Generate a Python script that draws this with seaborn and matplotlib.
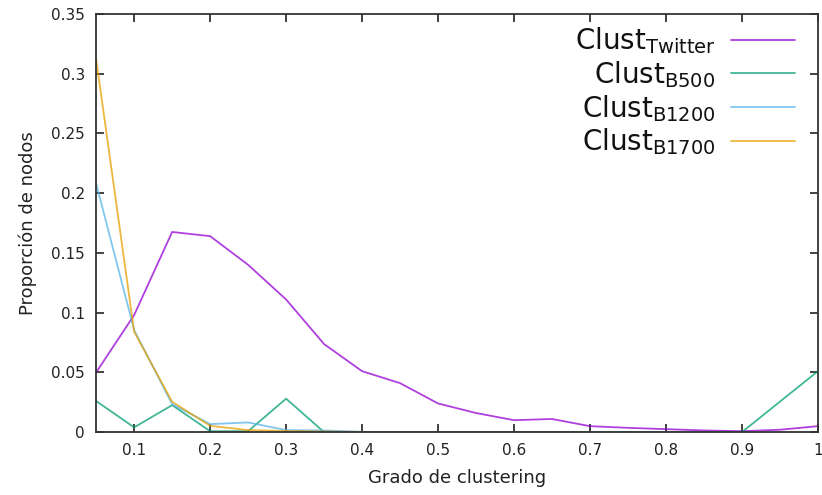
import numpy as np
import pandas as pd
import matplotlib
matplotlib.use("Agg")
import matplotlib.pyplot as plt
import seaborn as sns

x_twitter = [0.05, 0.1, 0.15, 0.2, 0.25, 0.3, 0.35, 0.4, 0.45, 0.5, 0.55, 0.6, 0.65, 0.7, 0.75, 0.8, 0.85, 0.9, 0.95, 1.0]
y_twitter = [0.050, 0.098, 0.1675, 0.164, 0.140, 0.111, 0.0737, 0.051, 0.041, 0.024, 0.016, 0.010, 0.011, 0.005, 0.0036, 0.0025, 0.0014, 0.0008, 0.002, 0.005]

x_b500 = [0.05, 0.1, 0.15, 0.2, 0.25, 0.3, 0.35, 0.4, 0.45, 0.5, 0.55, 0.6, 0.65, 0.7, 0.75, 0.8, 0.85, 0.9, 1.0]
y_b500 = [0.026, 0.004, 0.0226, 0.0008, 0.0008, 0.028, 0.0, 0.0, 0.0, 0.0, 0.0, 0.0, 0.0, 0.0, 0.0, 0.0, 0.0, 0.0, 0.051]

x_b1200 = [0.05, 0.1, 0.15, 0.2, 0.25, 0.3, 0.35, 0.4]
y_b1200 = [0.208, 0.0854, 0.0234, 0.0067, 0.0081, 0.0017, 0.0014, 0.0003]

x_b1700 = [0.05, 0.1, 0.15, 0.2, 0.25, 0.3, 0.35, 0.4]
y_b1700 = [0.312, 0.084, 0.0254, 0.0053, 0.0017, 0.001, 0.0005, 0.0001]

labels = [r"Clust$_{\mathrm{Twitter}}$", r"Clust$_{\mathrm{B500}}$",
          r"Clust$_{\mathrm{B1200}}$", r"Clust$_{\mathrm{B1700}}$"]
colors = ["#9400D3", "#009E73", "#56B4E9", "#E69F00"]

frames = []
for lab, xs, ys in zip(labels, [x_twitter, x_b500, x_b1200, x_b1700],
                       [y_twitter, y_b500, y_b1200, y_b1700]):
    frames.append(pd.DataFrame({"x": xs, "y": ys, "serie": lab}))
df = pd.concat(frames, ignore_index=True)

sns.set_style("ticks")
plt.rcParams["font.family"] = ["DejaVu Sans"]
plt.rcParams["mathtext.fontset"] = "dejavusans"

fig = plt.figure(figsize=(8.22, 4.95), dpi=100)
ax = fig.add_axes([0.117, 0.127, 0.878, 0.845])

sns.lineplot(data=df, x="x", y="y", hue="serie", hue_order=labels,
             palette=dict(zip(labels, colors)), ax=ax, linewidth=1.3,
             alpha=0.75, sort=False, estimator=None)

ax.set_xlim(0.05, 1.0)
ax.set_ylim(0, 0.35)
ax.set_xticks([0.1, 0.2, 0.3, 0.4, 0.5, 0.6, 0.7, 0.8, 0.9, 1.0])
ax.set_xticklabels(["0.1", "0.2", "0.3", "0.4", "0.5", "0.6", "0.7", "0.8", "0.9", "1"])
ax.set_yticks([0, 0.05, 0.1, 0.15, 0.2, 0.25, 0.3, 0.35])
ax.set_yticklabels(["0", "0.05", "0.1", "0.15", "0.2", "0.25", "0.3", "0.35"])
ax.tick_params(direction="in", length=6, width=1.2, top=True, right=True,
               labelsize=11, colors="#222222", pad=8)
for s in ax.spines.values():
    s.set_linewidth(1.3)
    s.set_color("#333333")
    s.set_visible(True)
ax.set_xlabel("Grado de clustering", fontsize=13, color="#222222", labelpad=8)
ax.set_ylabel("Proporción de nodos", fontsize=13, color="#222222", labelpad=10)

leg = ax.legend(loc="upper right", bbox_to_anchor=(0.968, 0.972), frameon=False,
                markerfirst=False, fontsize=20, handlelength=2.3,
                labelspacing=0.1, handletextpad=0.55, borderaxespad=0.0,
                borderpad=0.0, alignment="right")
for t in leg.get_texts():
    t.set_ha("right")
    t.set_color("#111111")
leg._legend_box.align = "right"

fig.savefig("out.png", dpi=100)
